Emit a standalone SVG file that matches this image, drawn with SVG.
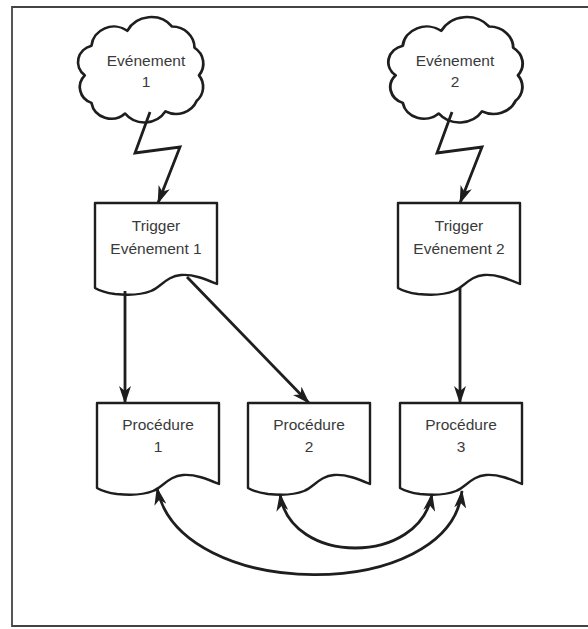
<svg xmlns="http://www.w3.org/2000/svg" xmlns:xlink="http://www.w3.org/1999/xlink" width="588" height="629" viewBox="0 0 588 629">
  <style>
    .frame { fill: none; stroke: #444444; stroke-width: 1.8; }
    .shape { fill: #ffffff; stroke: #1e1e1e; stroke-width: 2.4; stroke-linejoin: round; }
    .label { font-family: "Liberation Sans", Arial, sans-serif; font-size: 15.5px; fill: #3a3a3a; text-anchor: middle; }
    .conn { fill: none; stroke: #1e1e1e; stroke-width: 2.8; stroke-linejoin: miter; }
  </style>
  <defs>
    <!-- document shape: flat top, wavy bottom edge -->
    <path id="doc" d="M0,0 H122 V81 C110,76 98,71 86,72 C72,73 66,84 56,88 C46,92 30,92 20,91 C12,90 5,88 0,85 Z"/>
    <!-- cloud outline centred on 0,0 -->
    <path id="cloud" d="M-46,-22 A20,20 0 0 1 -14,-36 A24,24 0 0 1 26,-40 A20,20 0 0 1 46,-20 A18,18 0 0 1 50,6 A18,18 0 0 1 48,30 A20,20 0 0 1 20,40 A22,22 0 0 1 -16,42 A18,18 0 0 1 -46,32 A16,16 0 0 1 -52,6 A16,16 0 0 1 -46,-22 Z"/>
    <marker id="head" viewBox="0 0 18 12" refX="17" refY="6" markerWidth="18" markerHeight="12" markerUnits="userSpaceOnUse" orient="auto-start-reverse">
      <path d="M0,0 L18,6 L0,12 L5,6 Z" fill="#1e1e1e"/>
    </marker>
  </defs>

  <!-- outer frame (open on the right) -->
  <path class="frame" d="M588,7 H12 V626 H588"/>

  <g id="evenement1">
    <use href="#cloud" xlink:href="#cloud" class="shape" transform="translate(143,69) scale(1.12,1.06)"/>
    <text class="label" x="146" y="66">Evénement</text>
    <text class="label" x="146" y="87">1</text>
  </g>

  <g id="evenement2">
    <use href="#cloud" xlink:href="#cloud" class="shape" transform="translate(458,69) scale(1.2,1.06)"/>
    <text class="label" x="455" y="66">Evénement</text>
    <text class="label" x="455" y="87">2</text>
  </g>

  <g id="trigger1">
    <use href="#doc" xlink:href="#doc" class="shape" transform="translate(95,203)"/>
    <text class="label" x="156" y="231">Trigger</text>
    <text class="label" x="156" y="254">Evénement 1</text>
  </g>

  <g id="trigger2">
    <use href="#doc" xlink:href="#doc" class="shape" transform="translate(398,203)"/>
    <text class="label" x="459" y="231">Trigger</text>
    <text class="label" x="459" y="254">Evénement 2</text>
  </g>

  <g id="procedure1">
    <use href="#doc" xlink:href="#doc" class="shape" transform="translate(97,403)"/>
    <text class="label" x="158" y="430">Procédure</text>
    <text class="label" x="158" y="452">1</text>
  </g>

  <g id="procedure2">
    <use href="#doc" xlink:href="#doc" class="shape" transform="translate(248,403)"/>
    <text class="label" x="309" y="430">Procédure</text>
    <text class="label" x="309" y="452">2</text>
  </g>

  <g id="procedure3">
    <use href="#doc" xlink:href="#doc" class="shape" transform="translate(400,403)"/>
    <text class="label" x="461" y="430">Procédure</text>
    <text class="label" x="461" y="452">3</text>
  </g>

  <g id="connectors">
    <!-- lightning bolts from events to triggers -->
    <path class="conn" d="M150,112 L135,153 L180,147 L158,203" marker-end="url(#head)"/>
    <path class="conn" d="M452,112 L437,153 L482,147 L460,203" marker-end="url(#head)"/>
    <!-- trigger calls -->
    <path class="conn" d="M125,291 V403" marker-end="url(#head)"/>
    <path class="conn" d="M187,277 L309,403" marker-end="url(#head)"/>
    <path class="conn" d="M460,288 V403" marker-end="url(#head)"/>
    <!-- two-way links between procedures -->
    <path class="conn" d="M280,494 C290,566 420,566 432,494" marker-start="url(#head)" marker-end="url(#head)"/>
    <path class="conn" d="M157,488 C180,603 450,603 462,491" marker-start="url(#head)" marker-end="url(#head)"/>
  </g>
</svg>
